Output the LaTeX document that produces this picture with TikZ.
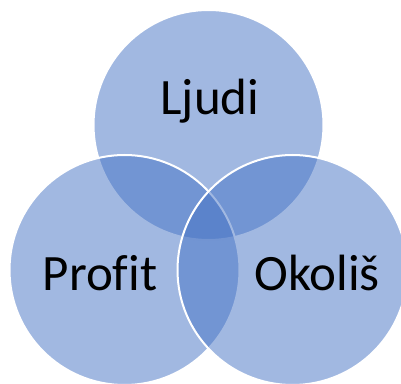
\documentclass[tikz,border=0pt]{standalone}
\usepackage{fontspec}
\setmainfont[Ligatures=NoCommon]{Carlito}
\usepackage{tikz}
\definecolor{setblue}{RGB}{68,114,196}

\begin{document}
\begin{tikzpicture}[x=1pt, y=1pt,
		setcircle/.style={circle, fill=setblue, fill opacity=0.5, draw=white, line width=2pt, minimum size=230pt, inner sep=0pt},
		setlabel/.style={font=\fontsize{51}{51}\selectfont, text=black, inner sep=0pt}]
		\useasboundingbox (0,0) rectangle (401,383);
		\node[setcircle] (ljudi) at (208.5,258) {};
		\node[setcircle] (profit) at (124.5,113) {};
		\node[setcircle] (okolis) at (292.5,113) {};
		\node[setlabel, anchor=base] (ljudi_text) at (210,268) {Ljudi};
		\node[setlabel, anchor=base] (profit_text) at (100,93) {Profit};
		\node[setlabel, anchor=base] (okolis_text) at (317,93) {Okoliš};
	\end{tikzpicture}
\end{document}
